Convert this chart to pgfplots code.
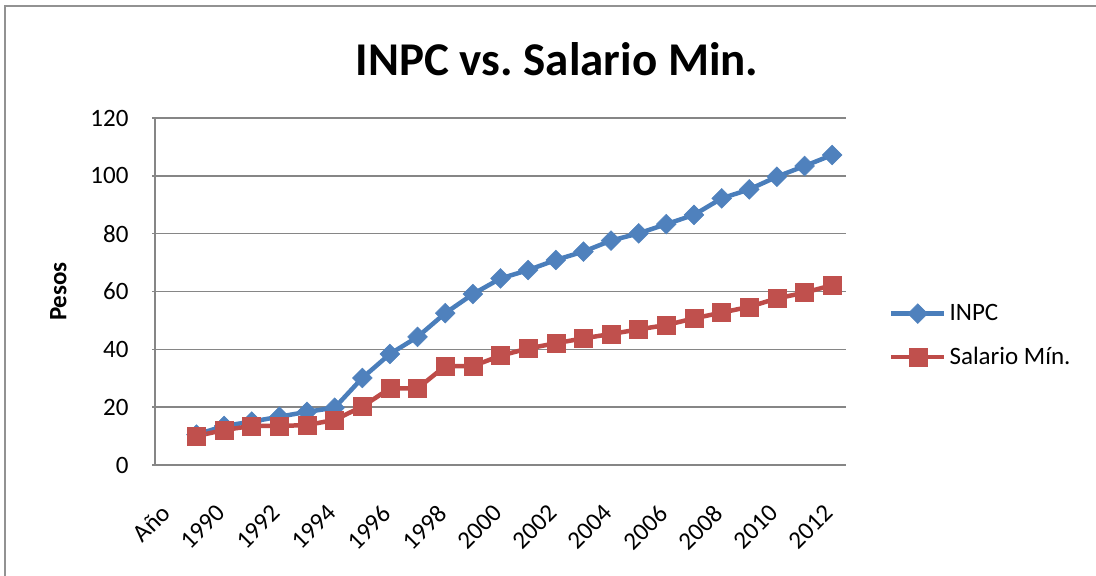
\documentclass[border=0pt]{standalone}
\usepackage{pgfplots}
\pgfplotsset{compat=1.18}
\usepackage{fontspec}
\setmainfont{Carlito}
\definecolor{inpcline}{HTML}{4A7EBB}
\definecolor{inpcfill}{HTML}{4F81BD}
\definecolor{salline}{HTML}{BE4B48}
\definecolor{salfill}{HTML}{C0504D}
\definecolor{gridc}{HTML}{868686}
\begin{document}
\begin{tikzpicture}[x=1bp,y=1bp]
\useasboundingbox (0,0) rectangle (1096,576);
\draw[color=gridc!90, line width=2bp] (5,-5) -- (5,570) -- (1100,570);
\node[anchor=base, font=\bfseries\fontsize{47bp}{54bp}\selectfont] at (557,500) {INPC vs.\ Salario Min.};
\begin{axis}[
  at={(155bp,111bp)}, anchor=south west,
  width=691bp, height=347bp, scale only axis,
  xmin=-0.5, xmax=24.5, ymin=0, ymax=120,
  axis x line=bottom, axis y line=left,
  axis line style={color=gridc, line width=1.5bp, -},
  ytick={0,20,...,120},
  ymajorgrids, grid style={color=gridc, line width=1.5bp},
  xtick={0,2,...,24},
  xticklabels={Año,1990,1992,1994,1996,1998,2000,2002,2004,2006,2008,2010,2012},
  x tick style={draw=none},
  y tick style={color=gridc, line width=1.5bp},
  tick align=outside, major tick length=3bp,
  /pgf/number format/assume math mode=true,
  ticklabel style={font=\fontsize{25bp}{30bp}\selectfont},
  yticklabel style={xshift=-20bp},
  xticklabel style={xshift=-9bp, yshift=-35bp, rotate=45, anchor=north east, inner sep=0pt},
  ylabel={\bfseries Pesos},
  every axis y label/.style={at={(axis description cs:-0.14,0.5)}, rotate=90, anchor=center, font=\fontsize{25bp}{30bp}\selectfont},
  legend style={at={(axis description cs:1.062,0.373)}, anchor=west, draw=none, fill=none,
    font=\fontsize{25bp}{30bp}\selectfont, row sep=19bp, inner sep=0pt,
    nodes={inner sep=3bp}},
  legend cell align=left,
  legend image code/.code={\draw[#1, mark repeat=2, mark phase=2] plot coordinates {(0bp,0bp) (26.5bp,0bp) (53bp,0bp)};},
]
\addplot[color=inpcline, line width=4.5bp, mark=square*, mark size=7bp,
  mark options={rotate=45, fill=inpcfill, draw=inpcfill, line width=0.5bp, solid}]
  coordinates {(1,10.5) (2,13.5) (3,15.0) (4,16.7) (5,18.4) (6,19.8) (7,30.1) (8,38.4) (9,44.3) (10,52.5) (11,59.1) (12,64.5) (13,67.4) (14,70.9) (15,73.8) (16,77.6) (17,80.1) (18,83.3) (19,86.5) (20,92.2) (21,95.3) (22,99.7) (23,103.4) (24,107.2)};
\addlegendentry{INPC}
\addplot[color=salline, line width=4.5bp, mark=square*, mark size=9bp,
  mark options={fill=salfill, draw=salfill, line width=0.5bp, solid}]
  coordinates {(1,10.0) (2,12.1) (3,13.5) (4,13.5) (5,13.8) (6,15.6) (7,20.2) (8,26.5) (9,26.5) (10,34.2) (11,34.2) (12,37.8) (13,40.3) (14,42.1) (15,43.8) (16,45.3) (17,46.9) (18,48.4) (19,50.7) (20,52.7) (21,54.7) (22,57.6) (23,59.6) (24,62.2)};
\addlegendentry{Salario Mín.}
\end{axis}
\end{tikzpicture}
\end{document}
